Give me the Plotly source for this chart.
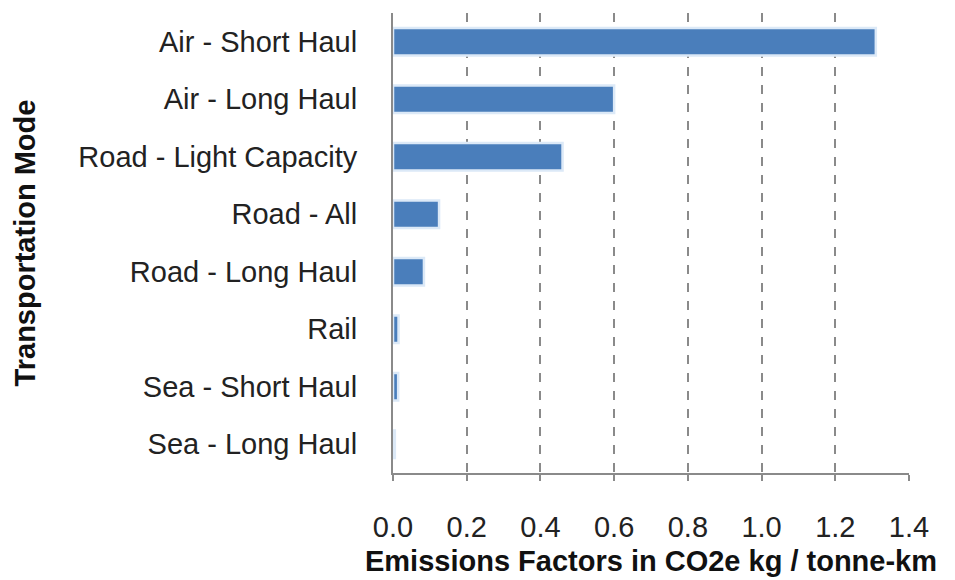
import plotly.graph_objects as go

modes = ["Air - Short Haul", "Air - Long Haul", "Road - Light Capacity", "Road - All",
         "Road - Long Haul", "Rail", "Sea - Short Haul", "Sea - Long Haul"]
factors = [1.31, 0.60, 0.46, 0.125, 0.084, 0.015, 0.014, 0.005]
x_ticks = [0.0, 0.2, 0.4, 0.6, 0.8, 1.0, 1.2, 1.4]
x_tick_text = ["0.0", "0.2", "0.4", "0.6", "0.8", "1.0", "1.2", "1.4"]

font_family = "Liberation Sans, Arial, sans-serif"

fig = go.Figure()
fig.add_trace(go.Bar(
    y=modes, x=factors, orientation="h",
    marker=dict(color="#4a7ebb", line=dict(color="#dce9f7", width=2.5)),
    width=0.48,
))

fig.update_layout(
    width=947, height=572,
    margin=dict(l=385, r=46, t=5, b=107),
    paper_bgcolor="white", plot_bgcolor="white",
    showlegend=False,
    font=dict(family=font_family, color="#222222"),
    xaxis=dict(
        range=[0, 1.4], tickvals=x_ticks, ticktext=x_tick_text,
        showgrid=True, gridcolor="#8a8a8a", gridwidth=2, griddash="dash",
        showline=True, linecolor="#8a8a8a", linewidth=2,
        ticks="outside", ticklen=6, tickwidth=2, tickcolor="#8a8a8a",
        ticklabelstandoff=21,
        tickfont=dict(size=29, color="#222222"),
        title=dict(text="<b>Emissions Factors in CO2e kg / tonne-km</b>",
                   font=dict(size=29, color="#111111"), standoff=9),
        zeroline=False,
    ),
    yaxis=dict(
        categoryorder="array", categoryarray=modes[::-1],
        range=[-0.5, 7.5],
        showgrid=False, showline=True, linecolor="#8a8a8a", linewidth=2,
        ticks="", ticklabelstandoff=28,
        tickfont=dict(size=29, color="#222222"),
        title=dict(text="<b>Transportation Mode</b>",
                   font=dict(size=29, color="#111111"), standoff=34),
        zeroline=False,
    ),
)

fig.write_html("out.html")
